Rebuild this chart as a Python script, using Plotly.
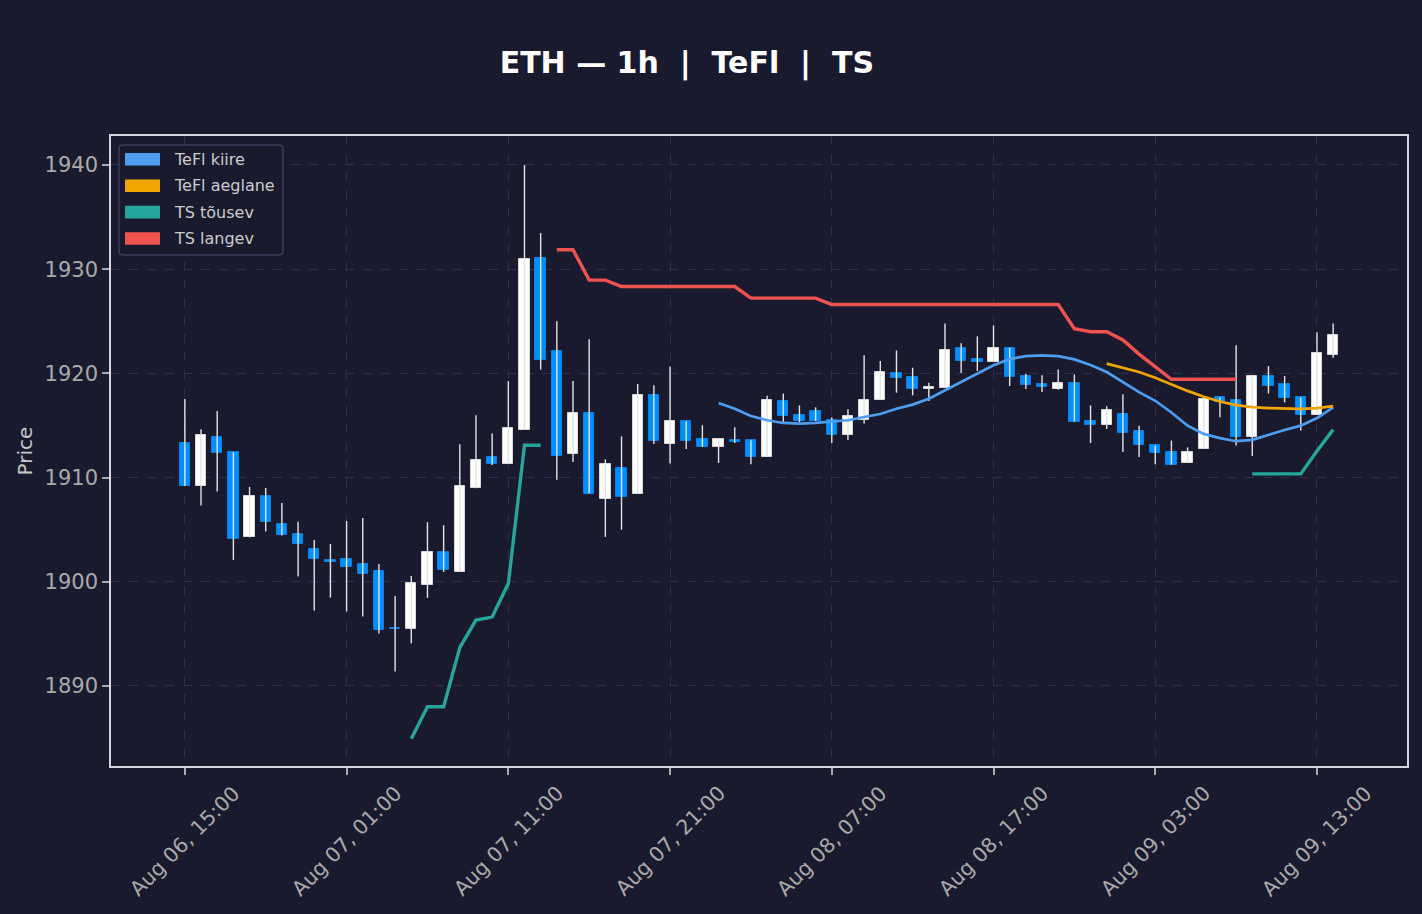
import pandas as pd
import plotly.graph_objects as go

BG = "#1a1a2e"
GRID = "#2e2e4e"
FRAME = "#d6d6de"
TICK_TXT = "#aaaaaa"
UP = "#ffffff"
DOWN = "#0090ff"
DOWN_EDGE = "#0a7fe6"
WICK = "#e4e4e8"

# hourly candles, Aug 06 15:00 -> Aug 09 14:00
times = pd.date_range("2023-08-06 15:00", periods=72, freq="h")

opens = [1913.3, 1909.23, 1913.87, 1912.43, 1904.27, 1908.2, 1905.52, 1904.56, 1903.12, 1902.05,
         1902.16, 1901.68, 1901.01, 1895.6, 1895.51, 1899.72, 1902.9, 1900.98, 1908.97, 1911.93,
         1911.35, 1914.6, 1931.04, 1922.19, 1912.22, 1916.16, 1907.96, 1910.95, 1908.46, 1917.96,
         1913.23, 1915.4, 1913.67, 1912.94, 1913.58, 1913.58, 1911.98, 1917.38, 1915.97, 1916.42,
         1915.56, 1914.12, 1915.53, 1917.48, 1920.03, 1919.68, 1918.53, 1918.63, 1922.46, 1921.41,
         1921.12, 1922.46, 1919.74, 1918.98, 1918.53, 1919.1, 1915.46, 1915.08, 1916.13, 1914.48,
         1913.08, 1912.48, 1911.4, 1912.73, 1917.71, 1917.43, 1913.87, 1919.71, 1918.95, 1917.71,
         1916.0, 1921.81]
highs = [1917.55, 1914.64, 1916.4, 1912.43, 1909.1, 1909.0, 1907.57, 1905.75, 1904.02, 1903.63,
         1905.84, 1906.13, 1901.71, 1898.64, 1900.56, 1905.72, 1905.43, 1913.2, 1915.98, 1914.24,
         1919.26, 1940.0, 1933.46, 1925.0, 1919.26, 1923.27, 1911.75, 1913.95, 1918.97, 1918.87,
         1920.67, 1915.4, 1915.02, 1913.67, 1914.82, 1913.58, 1917.86, 1918.08, 1916.93, 1916.74,
         1915.78, 1916.55, 1921.73, 1921.18, 1922.2, 1920.54, 1919.1, 1924.79, 1922.88, 1923.55,
         1924.6, 1922.46, 1919.97, 1919.81, 1920.38, 1919.9, 1916.93, 1916.84, 1917.99, 1914.98,
         1913.08, 1913.56, 1912.89, 1917.75, 1917.71, 1922.7, 1919.71, 1920.7, 1919.75, 1917.71,
         1923.94, 1924.79]
lows = [1909.2, 1907.31, 1908.66, 1902.1, 1904.27, 1904.82, 1904.43, 1900.5, 1897.24, 1898.48,
        1897.14, 1896.66, 1895.03, 1891.38, 1894.07, 1898.45, 1900.95, 1900.98, 1908.97, 1911.2,
        1911.35, 1914.6, 1920.35, 1909.8, 1911.5, 1908.46, 1904.31, 1905.0, 1908.46, 1913.23,
        1911.34, 1912.75, 1912.94, 1911.41, 1913.32, 1911.28, 1911.98, 1915.34, 1915.3, 1915.43,
        1913.32, 1913.61, 1915.18, 1917.48, 1918.15, 1917.89, 1917.35, 1918.63, 1920.03, 1920.22,
        1921.12, 1918.79, 1918.5, 1918.21, 1918.43, 1915.37, 1913.32, 1914.66, 1912.46, 1911.97,
        1911.27, 1911.24, 1911.4, 1912.73, 1915.78, 1913.08, 1912.06, 1918.06, 1917.21, 1914.51,
        1916.0, 1921.49]
closes = [1909.23, 1914.1, 1912.34, 1904.08, 1908.21, 1905.71, 1904.53, 1903.6, 1902.23, 1901.9,
          1901.39, 1900.72, 1895.35, 1895.48, 1899.86, 1902.9, 1901.16, 1909.15, 1911.71, 1911.35,
          1914.78, 1930.97, 1921.25, 1912.07, 1916.16, 1908.46, 1911.28, 1908.17, 1917.96, 1913.55,
          1915.4, 1913.51, 1912.94, 1913.67, 1913.45, 1911.98, 1917.41, 1915.91, 1915.43, 1915.43,
          1914.12, 1915.88, 1917.48, 1920.1, 1919.58, 1918.53, 1918.72, 1922.27, 1921.21, 1921.12,
          1922.46, 1919.65, 1918.91, 1918.72, 1919.1, 1915.37, 1915.08, 1916.52, 1914.28, 1913.11,
          1912.35, 1911.24, 1912.48, 1917.56, 1917.27, 1913.87, 1919.71, 1918.83, 1917.59, 1916.0,
          1921.94, 1923.71]

# indicator lines: (first candle index, values)
tefl_fast_start = 33
tefl_fast = [1917.16, 1916.6, 1915.91, 1915.5, 1915.24, 1915.18, 1915.24, 1915.34, 1915.5, 1915.81,
             1916.1, 1916.6, 1917.0, 1917.57, 1918.37, 1919.17, 1919.97, 1920.77, 1921.37, 1921.66,
             1921.73, 1921.66, 1921.34, 1920.8, 1920.13, 1919.2, 1918.2, 1917.37, 1916.25, 1914.98,
             1914.19, 1913.78, 1913.49, 1913.62, 1914.13, 1914.57, 1914.98, 1915.71, 1916.73]

tefl_slow_start = 57
tefl_slow = [1920.93, 1920.52, 1920.13, 1919.59, 1918.95, 1918.32, 1917.75, 1917.3, 1916.95, 1916.76,
             1916.67, 1916.63, 1916.6, 1916.67, 1916.86]

ts_up_start = 14
ts_up = [1884.94, 1888.0, 1888.0, 1893.68, 1896.32, 1896.61, 1899.83, 1913.1, 1913.1]
ts_up2_start = 66
ts_up2 = [1910.35, 1910.35, 1910.35, 1910.35, 1912.54, 1914.6]

ts_down_start = 23
ts_down = [1931.87, 1931.87, 1928.95, 1928.95, 1928.33, 1928.33, 1928.33, 1928.33, 1928.33, 1928.33,
           1928.33, 1928.33, 1927.22, 1927.22, 1927.22, 1927.22, 1927.22, 1926.61, 1926.61, 1926.61,
           1926.61, 1926.61, 1926.61, 1926.61, 1926.61, 1926.61, 1926.61, 1926.61, 1926.61, 1926.61,
           1926.61, 1926.61, 1924.28, 1923.99, 1923.99, 1923.2, 1921.85, 1920.65, 1919.43, 1919.43,
           1919.43, 1919.43, 1919.43]

n = len(times)


def pad(start, values):
    return [None] * start + list(values) + [None] * (n - start - len(values))


fast_y = pad(tefl_fast_start, tefl_fast)
slow_y = pad(tefl_slow_start, tefl_slow)
up_y = pad(ts_up_start, ts_up)
up_y[ts_up2_start:ts_up2_start + len(ts_up2)] = ts_up2
down_y = pad(ts_down_start, ts_down)

fig = go.Figure()

# wicks (drawn first so bodies sit on top)
wx, wy = [], []
for t, lo, hi in zip(times, lows, highs):
    wx += [t, t, None]
    wy += [lo, hi, None]
fig.add_trace(go.Scatter(x=wx, y=wy, mode="lines", line=dict(color=WICK, width=1.4),
                         hoverinfo="skip", showlegend=False))

body_w = 0.64 * 3600 * 1000
up_idx = [i for i in range(n) if closes[i] >= opens[i]]
dn_idx = [i for i in range(n) if closes[i] < opens[i]]

fig.add_trace(go.Bar(
    x=[times[i] for i in up_idx],
    base=[opens[i] for i in up_idx],
    y=[max(closes[i] - opens[i], 0.12) for i in up_idx],
    width=body_w, marker=dict(color=UP, line=dict(color="#d8d8d8", width=1)),
    showlegend=False, hoverinfo="skip"))
fig.add_trace(go.Bar(
    x=[times[i] for i in dn_idx],
    base=[closes[i] for i in dn_idx],
    y=[max(opens[i] - closes[i], 0.12) for i in dn_idx],
    width=body_w, marker=dict(color=DOWN, line=dict(color=DOWN_EDGE, width=1)),
    showlegend=False, hoverinfo="skip"))

series = [
    ("TeFl kiire", fast_y, "#4d9df0", 2.7),
    ("TeFl aeglane", slow_y, "#f0a500", 2.7),
    ("TS tõusev", up_y, "#26a69a", 3.4),
    ("TS langev", down_y, "#ef5350", 3.4),
]
for name, ys, color, w in series:
    fig.add_trace(go.Scatter(x=times, y=ys, mode="lines", line=dict(color=color, width=w),
                             connectgaps=False, name=name, showlegend=False))

# legend with patch swatches, matplotlib style (positions in plot pixels)
PW, PH = 1296, 630


def px_x(p):
    return p / PW


def px_y(p):
    return 1 - p / PH


bx0, bx1, by0, by1, r = 8, 172, 9, 119, 4
rx, ry = r / PW, r / PH
fig.add_shape(
    type="path", xref="paper", yref="paper",
    path=(f"M{px_x(bx0) + rx},{px_y(by0)} L{px_x(bx1) - rx},{px_y(by0)} "
          f"Q{px_x(bx1)},{px_y(by0)} {px_x(bx1)},{px_y(by0) - ry} "
          f"L{px_x(bx1)},{px_y(by1) + ry} Q{px_x(bx1)},{px_y(by1)} {px_x(bx1) - rx},{px_y(by1)} "
          f"L{px_x(bx0) + rx},{px_y(by1)} Q{px_x(bx0)},{px_y(by1)} {px_x(bx0)},{px_y(by1) + ry} "
          f"L{px_x(bx0)},{px_y(by0) - ry} Q{px_x(bx0)},{px_y(by0)} {px_x(bx0) + rx},{px_y(by0)} Z"),
    fillcolor=BG, line=dict(color="#3d3d5c", width=1.5), layer="above")
for k, (name, ys, color, w) in enumerate(series):
    cy = 23.3 + k * 26.4
    fig.add_shape(type="rect", xref="paper", yref="paper",
                  x0=px_x(14), x1=px_x(49), y0=px_y(cy - 6.3), y1=px_y(cy + 6.3),
                  fillcolor=color, line=dict(width=0), layer="above")
    fig.add_annotation(x=px_x(61), y=px_y(cy), xref="paper", yref="paper", text=name,
                       showarrow=False, xanchor="left", yanchor="middle",
                       font=dict(size=16, color="#cccccc"))

tick_times = times[::10]
x_pad = pd.Timedelta(minutes=274)

fig.update_xaxes(
    type="date", range=[times[0] - x_pad, times[-1] + x_pad],
    tickvals=tick_times, showticklabels=False,
    ticks="outside", ticklen=7, tickwidth=1.5, tickcolor=TICK_TXT,
    showgrid=True, gridcolor=GRID, griddash="dash", gridwidth=1,
    showline=True, linecolor=FRAME, linewidth=1.5, mirror=True, zeroline=False,
)
fig.update_yaxes(
    range=[1882.32, 1942.78], tickvals=[1890, 1900, 1910, 1920, 1930, 1940],
    ticks="outside", ticklen=7, tickwidth=1.5, tickcolor=TICK_TXT,
    tickfont=dict(size=21, color=TICK_TXT),
    showgrid=True, gridcolor=GRID, griddash="dash", gridwidth=1,
    showline=True, linecolor=FRAME, linewidth=1.5, mirror=True, zeroline=False,
    title=dict(text="Price", font=dict(size=20, color="#c8c8c8"), standoff=7),
)

# rotated, centred date labels (matplotlib style)
for t in tick_times:
    fig.add_annotation(x=t, xref="x", y=0, yref="paper", yshift=-12,
                       text=t.strftime("%b %d, %H:%M"), textangle=-45, showarrow=False,
                       xanchor="center", yanchor="top",
                       font=dict(size=20.5, color=TICK_TXT))

fig.update_layout(
    width=1422, height=914,
    paper_bgcolor=BG, plot_bgcolor=BG,
    font=dict(family="DejaVu Sans", color="#cccccc"),
    margin=dict(l=111, r=15, t=136, b=148),
    barmode="overlay", bargap=0, showlegend=False,
    title=dict(text="ETH — 1h  |  TeFl  |  TS", x=0.483, xanchor="center",
               y=1 - 62 / 914, yanchor="middle", yref="container",
               font=dict(size=30, color="#ffffff", weight="bold")),
)

fig.write_html("out.html", config={"displayModeBar": False},
               post_script=f"document.body.style.margin='0';"
                           f"document.body.style.background='{BG}';")
